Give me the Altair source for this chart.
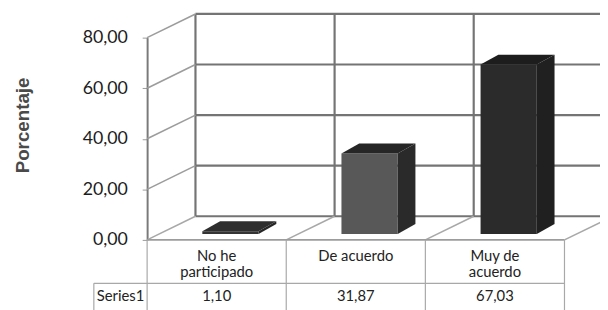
import altair as alt
import pandas as pd

# ---- data ----
categories = ["No he participado", "De acuerdo", "Muy de acuerdo"]
label_line1 = ["No he", "De acuerdo", "Muy de"]
label_line2 = ["participado", "", "acuerdo"]
values = [1.10, 31.87, 67.03]
series_name = "Series1"
y_ticks = [0, 20, 40, 60, 80]
axis_title = "Porcentaje"

# ---- geometry / style constants ----
PX_X = 141.0            # pixels per category
H = 205                 # plot height (0..80)
PX_Y = H / 80.0
W = PX_X * len(categories)
DX = 49 / PX_X          # wall depth (x units)
DY = 24 / PX_Y          # wall depth (value units)
BAR_F = 0.25            # depth fraction of bar front face
BAR_OFF = 0.31
BAR_W = 0.404
BDX = 18 / PX_X         # bar depth
BDY = 10 / PX_Y
HDR_LINE = -(285 - 241) / PX_Y
TBL_BOTTOM = -(315 - 241) / PX_Y
SER_LEFT = (95 - 149) / PX_X

front_colors = ["#343434", "#585858", "#2b2b2b"]
side_colors = ["#262626", "#2a2a2a", "#202020"]
top_colors = ["#2e2e2e", "#262626", "#1d1d1d"]

FONT = "Lato"

n = len(categories)
xs = alt.Scale(domain=[0, n], nice=False, zero=False)
ys = alt.Scale(domain=[0, 80], nice=False, zero=False)
yaxis = alt.Axis(
    values=y_ticks, title=axis_title, grid=False,
    labelExpr="replace(format(datum.value, '.2f'), '.', ',')",
    labelFont=FONT, labelFontSize=18, labelColor="#1c1c1c", labelPadding=15,
    tickSize=5, tickColor="#9a9a9a", tickWidth=1,
    domainColor="#7a7a7a", domainWidth=2,
    titleFont="Liberation Sans", titleFontWeight="bold", titleFontSize=19,
    titleColor="#4a4a4a", titleAngle=270, titleX=-126, titleY=H / 2 - 14,
    titleAlign="center", titleBaseline="middle",
)
X = lambda f: alt.X(f, scale=xs, axis=None)
Y = lambda f: alt.Y(f, scale=ys, axis=yaxis, stack=None)

# ---- bars ----
bars = pd.DataFrame({"name": categories, "i": range(n), "value": values})
bars["x0"] = bars["i"] + BAR_OFF + BAR_F * DX
bars["x1"] = bars["x0"] + BAR_W
bars["b"] = BAR_F * DY
bars["t"] = bars["b"] + bars["value"]

bar_layers = []
for k, r in enumerate(bars.to_dict("records")):
    x0, x1, b, t = r["x0"], r["x1"], r["b"], r["t"]
    one = pd.DataFrame([r])
    bar_layers.append(
        alt.Chart(one).mark_rect(color=front_colors[k]).encode(
            x=X("x0:Q"), x2="x1:Q", y=Y("b:Q"), y2="t:Q")
    )
    side_df = pd.DataFrame({"x": [x1, x1 + BDX], "lo": [b, b + BDY], "hi": [t, t + BDY]})
    bar_layers.append(
        alt.Chart(side_df).mark_area(color=side_colors[k], orient="vertical", opacity=1).encode(
            x=X("x:Q"), y=Y("lo:Q"), y2="hi:Q")
    )
    top_df = pd.DataFrame({
        "x": [x0, x0 + BDX, x1, x1 + BDX],
        "lo": [t, t, t, t + BDY],
        "hi": [t, t + BDY, t + BDY, t + BDY],
    })
    bar_layers.append(
        alt.Chart(top_df).mark_area(color=top_colors[k], orient="vertical", opacity=1).encode(
            x=X("x:Q"), y=Y("lo:Q"), y2="hi:Q")
    )


# ---- wall / floor lines ----
def seg_df(segs):
    rows = []
    for k, (x1, y1, x2, y2) in enumerate(segs):
        rows.append({"id": k, "x": x1, "y": y1, "o": 0})
        rows.append({"id": k, "x": x2, "y": y2, "o": 1})
    return pd.DataFrame(rows)


def line_layer(segs, color, width):
    return alt.Chart(seg_df(segs)).mark_line(color=color, strokeWidth=width).encode(
        x=X("x:Q"), y=Y("y:Q"), detail="id:N", order="o:Q",
    )


back_h = [(DX, t + DY, n + DX, t + DY) for t in y_ticks]
back_v = [(i + DX, DY, i + DX, y_ticks[-1] + DY) for i in range(n + 1)]
left_diag = [(0, t, DX, t + DY) for t in y_ticks[1:]]
floor_diag = [(i, 0, i + DX, DY) for i in range(n + 1)]
floor_front = [(0, 0, n, 0)]
table_lines = (
    [(i, 0, i, TBL_BOTTOM) for i in range(n + 1)]
    + [(SER_LEFT, HDR_LINE, n, HDR_LINE), (SER_LEFT, HDR_LINE, SER_LEFT, TBL_BOTTOM)]
)

walls = [
    line_layer(back_h, "#747474", 2.2),
    line_layer(back_v, "#747474", 2.2),
    line_layer(left_diag, "#9c9c9c", 1.6),
    line_layer(floor_diag, "#a8a8a8", 1.6),
    line_layer(floor_front, "#9c9c9c", 1.6),
    line_layer(table_lines, "#a8a8a8", 1.2),
]

# ---- data table text ----
tbl = pd.DataFrame({"i": range(n), "l1": label_line1, "l2": label_line2, "value": values})
tbl["xc"] = tbl["i"] + 0.5
base_tbl = alt.Chart(tbl).transform_calculate(
    vtxt="replace(format(datum.value, '.2f'), '.', ',')"
)
txt_kw = dict(font=FONT, fontSize=15, color="#222222", align="center", baseline="middle")
t1 = base_tbl.mark_text(**txt_kw).encode(x=X("xc:Q"), y=alt.value(221), text="l1:N")
t2 = base_tbl.mark_text(**txt_kw).encode(x=X("xc:Q"), y=alt.value(238), text="l2:N")
t3 = base_tbl.mark_text(**txt_kw).encode(x=X("xc:Q"), y=alt.value(262), text="vtxt:N")
ser = alt.Chart(pd.DataFrame({"label": [series_name], "xc": [SER_LEFT / 2]})).mark_text(**txt_kw).encode(
    x=X("xc:Q"), y=alt.value(262), text="label:N")

chart = alt.layer(*walls, *bar_layers, t1, t2, t3, ser).properties(
    width=W, height=H,
    autosize=alt.AutoSizeParams(type="none"),
    padding={"left": 141, "top": 28, "right": 600 - 141 - W, "bottom": 302 - 28 - H},
    background="white",
).configure_view(stroke=None)

chart.save("out.html", embed_options={"renderer": "svg", "actions": False})
